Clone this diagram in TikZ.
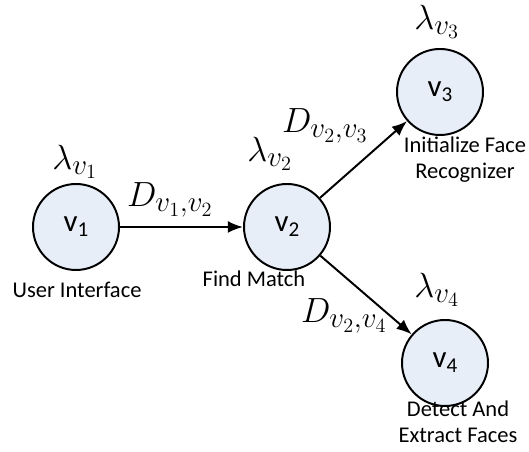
\documentclass[tikz,border=0pt]{standalone}
\usepackage{fontspec}
\setmainfont{Carlito}
\usetikzlibrary{positioning, arrows.meta}
\definecolor{taskFillColor}{RGB}{231,238,248}
\newcommand{\vidx}[1]{v\raisebox{-3.5pt}{\fontsize{15}{17}\selectfont #1}}

\begin{document}
\begin{tikzpicture}
            \tikzset{task/.style={circle, draw, line width=1.4pt, fill=taskFillColor, minimum size=2.15cm, inner sep=0pt, font=\fontsize{22}{26}\selectfont}}
            \tikzset{caption/.style={align=center, font=\fontsize{16}{18.5}\selectfont}}
            \tikzset{weight/.style={font=\fontsize{28}{32}\selectfont}}
            \tikzset{flow/.style={-{Latex[length=3.8mm, width=3mm]}, line width=1.4pt}}

            \useasboundingbox (0,0) rectangle (13.225,11.3);

            \node[task] (v1) at (1.9,5.625) {\vidx{1}};
            \node[task] (v2) at (7.175,5.625) {\vidx{2}};
            \node[task] (v3) at (11.0,9.0) {\vidx{3}};
            \node[task] (v4) at (11.125,2.225) {\vidx{4}};

            \node[caption] (ui) at (1.925,4.05) {User Interface};
            \node[caption] (match) at (6.35,4.33) {Find Match};
            \node[caption] (init) at (11.625,7.3) {Initialize Face\\Recognizer};
            \node[caption] (detect) at (11.45,0.75) {Detect And\\Extract Faces};

            \node[weight] (l1) at (1.875,7.25) {$\lambda_{v_1}$};
            \node[weight] (l2) at (6.75,7.45) {$\lambda_{v_2}$};
            \node[weight] (l3) at (10.925,10.75) {$\lambda_{v_3}$};
            \node[weight] (l4) at (10.925,4.05) {$\lambda_{v_4}$};

            \draw[flow] (v1) -- (v2);
            \draw[flow] (v2) -- (v3);
            \draw[flow] (v2) -- (v4);

            \node[weight] (d12) at (4.25,6.3) {$D_{v_1,v_2}$};
            \node[weight] (d23) at (8.125,8.15) {$D_{v_2,v_3}$};
            \node[weight] (d24) at (8.6,3.4) {$D_{v_2,v_4}$};
        \end{tikzpicture}
\end{document}
